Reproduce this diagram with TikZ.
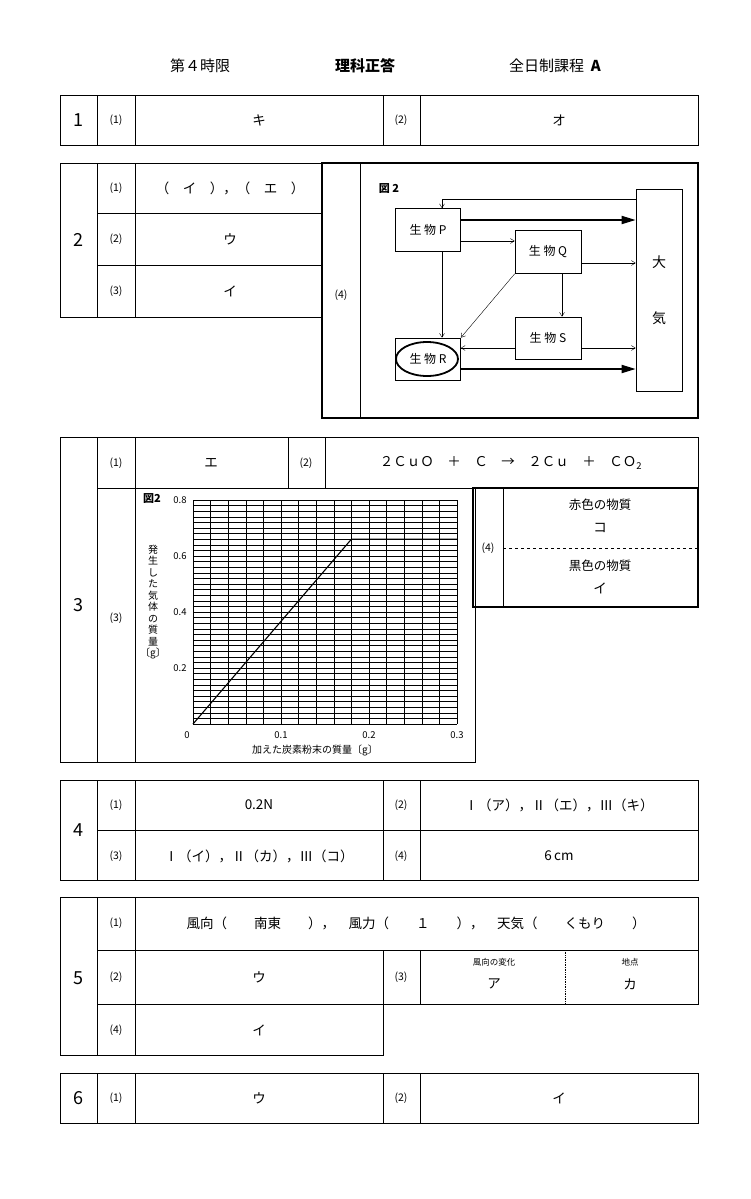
\documentclass[tikz,border=0pt]{standalone}
\usepackage{fontspec}
\setmainfont{Noto Sans CJK JP}
\newcommand\jpb{\bfseries}
\usetikzlibrary{arrows.meta}
\begin{document}
\begin{tikzpicture}[x=1pt,y=-1pt,
  cell/.style={draw,line width=0.5pt},
  tx/.style={font=\fontsize{13.5}{16}\selectfont},
  lb/.style={font=\fontsize{10.5}{12}\selectfont},
  big/.style={font=\fontsize{18}{20}\selectfont},
  bx/.style={draw,line width=0.7pt},
  ar/.style={-{Straight Barb[length=4pt,width=5pt]},line width=0.4pt},
  tk/.style={-{Triangle[length=14pt,width=8pt]},line width=1.8pt}]
\useasboundingbox (0,0) rectangle (750,1199);
\fill[white] (0,0) rectangle (750,1199);
% header
\node[font=\fontsize{15}{17}\selectfont] (h1) at (200,66) {第４時限};
\node[font=\jpb\fontsize{15}{17}\selectfont] (h2) at (365,66) {理科正答};
\node[font=\fontsize{15}{17}\selectfont] (h3) at (555,66) {全日制課程\ \ \textbf{A}};
% section 1
\foreach \x/\w in {60/37,97/38,135/248,383/37,420/278} \draw[cell] (\x,95) rectangle ++(\w,50);
\node[big] (n1) at (78,120) {1};
\node[lb] (a11) at (116,120) {(1)}; \node[tx] (b11) at (259,120) {キ};
\node[lb] (a12) at (401,120) {(2)}; \node[tx] (b12) at (559,120) {オ};
% section 2
\draw[cell] (60,163) rectangle (97,317);
\draw[cell] (97,163) rectangle (135,317); \draw[cell] (135,163) rectangle (322,317);
\draw[cell] (97,213) -- (322,213); \draw[cell] (97,265) -- (322,265);
\node[big] (n2) at (78,240) {2};
\node[lb] (a21) at (116,188) {(1)}; \node[tx] (b21) at (230,188) {（　イ　），（　エ　）};
\node[lb] (a22) at (116,239) {(2)}; \node[tx] (b22) at (230,239) {ウ};
\node[lb] (a23) at (116,291) {(3)}; \node[tx] (b23) at (230,291) {イ};
\draw[line width=1.8pt] (322,163) rectangle (698,418);
\draw[cell] (360,163) -- (360,418);
\node[lb] (a24) at (341,295) {(4)};
\node[font=\jpb\fontsize{11}{13}\selectfont] (fig) at (389,189) {図 2};
\node[bx,minimum width=65pt,minimum height=43pt,font=\fontsize{12}{14}\selectfont] (P) at (428,230) {生 物 P};
\node[bx,minimum width=66pt,minimum height=43pt,font=\fontsize{12}{14}\selectfont] (Q) at (548,252) {生 物 Q};
\node[bx,minimum width=66pt,minimum height=42pt,font=\fontsize{12}{14}\selectfont] (S) at (548,338) {生 物 S};
\node[bx,minimum width=65pt,minimum height=42pt,font=\fontsize{12}{14}\selectfont] (R) at (428,359) {生 物 R};
\node[bx,minimum width=46pt,minimum height=202pt,font=\fontsize{14}{30}\selectfont,align=center] (A) at (659,290) {大\\[26pt]気};
\draw[line width=1.8pt] (427,359) ellipse (31pt and 17pt);
\coordinate (c1) at (442,199);
\draw[ar] (A.west|-c1) -- (c1) -- (c1|-P.north);
\draw[tk] (P.east|-0,220) -- (A.west|-0,220);
\draw[ar] (P.east|-0,241) -- (Q.west|-0,241);
\draw[ar] (Q.east|-0,263) -- (A.west|-0,263);
\draw[ar] (P.south-|442,0) -- (R.north-|442,0);
\draw[ar] (Q.south west) -- (R.north east);
\draw[ar] (Q.south-|562,0) -- (S.north-|562,0);
\draw[ar] (S.west|-0,348) -- (R.east|-0,348);
\draw[ar] (S.east|-0,348) -- (A.west|-0,348);
\draw[tk] (R.east|-0,369) -- (A.west|-0,369);
% section 3
\draw[cell] (60,437) rectangle (97,762);
\draw[cell] (97,437) rectangle (698,488);
\foreach \x in {135,288,325} \draw[cell] (\x,437) -- (\x,488);
\draw[cell] (97,488) rectangle (475,762); \draw[cell] (135,488) -- (135,762);
\node[big] (n3) at (78,605) {3};
\node[lb] (a31) at (116,463) {(1)}; \node[tx] (b31) at (211,463) {エ};
\node[lb] (a32) at (306,463) {(2)}; \node[tx] (b32) at (511,463) {２ＣｕＯ　＋　Ｃ　→　２Ｃｕ　＋　ＣＯ\textsubscript{2}};
\node[lb] (a33) at (116,618) {(3)};
\draw[line width=1.8pt] (473,488) rectangle (698,607);
\draw[cell] (503,488) -- (503,607);
\draw[dashed,line width=0.5pt] (503,548) -- (698,548);
\node[lb] (a34) at (488,548) {(4)};
\node[font=\fontsize{12.5}{14}\selectfont] (r1) at (600,505) {赤色の物質};
\node[tx] (r2) at (600,528) {コ};
\node[font=\fontsize{12.5}{14}\selectfont] (r3) at (600,566) {黒色の物質};
\node[tx] (r4) at (600,588) {イ};
% graph
\foreach \i in {0,...,40} {\pgfmathsetmacro\yy{724-\i*5.6}
  \pgfmathtruncatemacro\m{mod(\i,5)}
  \ifnum\m=0 \draw[line width=0.7pt] (193,\yy) -- (457,\yy); \else \draw[line width=0.3pt] (193,\yy) -- (457,\yy); \fi}
\foreach \i in {0,...,15} {\pgfmathsetmacro\xx{193+\i*17.6} \draw[line width=0.5pt] (\xx,500) -- (\xx,724);}
\draw[line width=1.1pt] (193,724) -- (351.4,539.2) -- (457,539.2);
\node[font=\jpb\fontsize{11}{13}\selectfont] (g0) at (152,499) {図2};
\foreach \v/\yy in {0.8/500,0.6/556,0.4/612,0.2/668} \node[font=\fontsize{9.5}{11}\selectfont] at (180,\yy) {\v};
\node[font=\fontsize{9.5}{11}\selectfont] (x0) at (187,735) {0};
\foreach \v/\xx in {0.1/281,0.2/369,0.3/457} \node[font=\fontsize{9.5}{11}\selectfont] at (\xx,735) {\v};
\node[font=\fontsize{10}{12}\selectfont] (xl) at (315,750) {加えた炭素粉末の質量〔g〕};
\node[align=center,inner sep=0pt,font=\fontsize{10}{11.5}\selectfont] (yl) at (153,602) {発\\生\\し\\た\\気\\体\\の\\質\\量\\〔g〕};
% section 4
\draw[cell] (60,780) rectangle (97,880);
\foreach \y in {780,830} \foreach \x/\w in {97/38,135/248,383/37,420/278} \draw[cell] (\x,\y) rectangle ++(\w,50);
\node[big] (n4) at (78,830) {4};
\node[lb] (a41) at (116,805) {(1)}; \node[tx] (b41) at (259,805) {0.2N};
\node[lb] (a42) at (401,805) {(2)}; \node[tx] (b42) at (559,805) {Ⅰ（ア），Ⅱ（エ），Ⅲ（キ）};
\node[lb] (a43) at (116,856) {(3)}; \node[tx] (b43) at (259,856) {Ⅰ（イ），Ⅱ（カ），Ⅲ（コ）};
\node[lb] (a44) at (401,856) {(4)}; \node[tx] (b44) at (559,856) {6\,cm};
% section 5
\draw[cell] (60,897) rectangle (97,1055);
\draw[cell] (97,897) rectangle (135,950); \draw[cell] (135,897) rectangle (698,950);
\foreach \x/\w in {97/38,135/248,383/37,420/278} \draw[cell] (\x,950) rectangle ++(\w,54);
\draw[cell] (97,1004) rectangle (135,1055); \draw[cell] (135,1004) rectangle (383,1055);
\draw[densely dotted,line width=0.7pt] (565,950) -- (565,1004);
\node[big] (n5) at (78,978) {5};
\node[lb] (a51) at (116,923) {(1)}; \node[tx] (b51) at (416,923) {風向（　　南東　　），　風力（　　１　　），　天気（　　くもり　　）};
\node[lb] (a52) at (116,977) {(2)}; \node[tx] (b52) at (259,977) {ウ};
\node[lb] (a53) at (401,977) {(3)};
\node[font=\fontsize{8.5}{10}\selectfont] (c51) at (494,962) {風向の変化}; \node[tx] (c52) at (494,984) {ア};
\node[font=\fontsize{8.5}{10}\selectfont] (c53) at (630,962) {地点}; \node[tx] (c54) at (630,984) {カ};
\node[lb] (a54) at (116,1030) {(4)}; \node[tx] (b54) at (259,1030) {イ};
% section 6
\foreach \x/\w in {60/37,97/38,135/248,383/37,420/278} \draw[cell] (\x,1073) rectangle ++(\w,50);
\node[big] (n6) at (78,1098) {6};
\node[lb] (a61) at (116,1098) {(1)}; \node[tx] (b61) at (259,1098) {ウ};
\node[lb] (a62) at (401,1098) {(2)}; \node[tx] (b62) at (559,1098) {イ};
\end{tikzpicture}
\end{document}
